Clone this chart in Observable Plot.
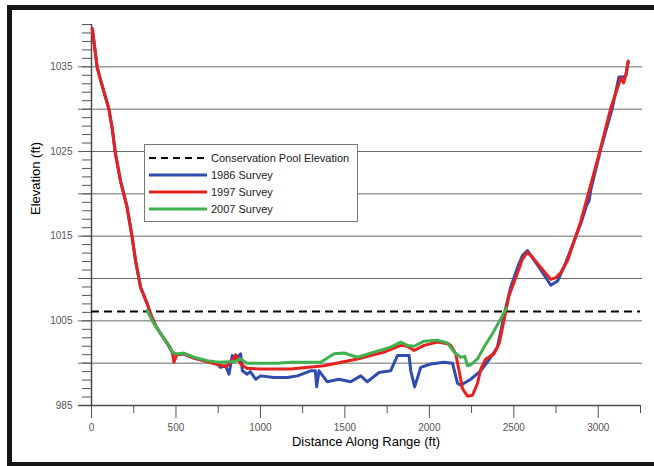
<!DOCTYPE html>
<html><head><meta charset="utf-8">
<script src="https://cdn.jsdelivr.net/npm/d3@7"></script>
<script src="https://cdn.jsdelivr.net/npm/@observablehq/plot@0.6"></script>
<style>
body{margin:0;background:#fff;}
#wrap{position:relative;width:654px;height:466px;overflow:hidden;font-family:"Liberation Sans",Arial,sans-serif;background:#fff;}
#border{position:absolute;left:7px;top:5px;width:700px;height:452px;border:5px solid #161616;border-right:none;}
#chart{position:absolute;left:0;top:0;}
#legend{position:absolute;left:144px;top:144px;width:212px;height:76px;border:1px solid #777;background:#fff;}
.row{position:absolute;left:0;height:14px;font-size:11px;color:#1a1a1a;line-height:14px;}
.row svg{position:absolute;left:4px;top:0;}
.row span{position:absolute;left:66px;top:0;white-space:nowrap;}
</style></head>
<body><div id="wrap"><div id="border"></div><div id="chart"></div><div id="legend"></div></div>
<script>
// ---- data ----
const poolElevation = 1006.1;

const dist1986 = [5,34,53,103,122,142,172,211,241,261,290,330,350,380,409,458,478,500,547,606,685,744,764,794,814,833,853,883,893,922,940,972,1001,1080,1159,1219,1297,1325,1333,1347,1396,1465,1534,1594,1633,1702,1771,1811,1880,1890,1913,1949,2008,2087,2137,2167,2186,2245,2304,2364,2403,2423,2453,2482,2522,2551,2581,2650,2719,2759,2800,2897,2930,2946,2956,3015,3084,3122,3151,3164,3177];
const elev1986 = [1039.5,1034.9,1033.5,1030.0,1027.8,1024.7,1021.5,1018.4,1014.8,1012.1,1009.0,1007.0,1005.8,1004.4,1003.5,1002.0,1001.3,1001.0,1001.1,1000.6,1000.2,999.9,999.5,999.7,998.7,1000.9,1000.5,1001.1,999.1,998.7,999.0,998.1,998.5,998.3,998.3,998.5,999.1,999.1,997.2,999.1,997.8,998.1,997.8,998.5,997.8,998.9,999.1,1000.9,1000.9,999.1,997.2,999.5,999.9,1000.1,1000.0,997.6,997.4,998.1,999.1,1000.7,1001.9,1003.8,1006.6,1009.0,1011.3,1012.7,1013.3,1011.3,1009.2,1009.7,1011.5,1016.5,1018.6,1019.2,1020.5,1025.3,1030.2,1033.8,1033.8,1034.0,1035.5];

const dist1997 = [5,34,53,103,122,142,172,211,241,261,290,330,350,380,409,458,478,488,505,547,606,685,750,800,843,853,883,920,1000,1100,1179,1376,1574,1732,1831,1870,1910,1969,2048,2107,2127,2156,2176,2196,2226,2255,2285,2304,2334,2383,2413,2433,2453,2472,2512,2551,2581,2611,2660,2719,2749,2778,2818,2897,2956,3015,3075,3134,3150,3164,3177];
const elev1997 = [1039.5,1034.9,1033.5,1030.0,1027.8,1024.7,1021.5,1018.4,1014.8,1012.1,1009.0,1007.0,1005.8,1004.4,1003.5,1002.1,1001.3,1000.1,1001.0,1001.1,1000.6,1000.2,999.8,999.6,1000.6,1001.0,999.9,999.4,999.3,999.3,999.3,999.7,1000.5,1001.3,1002.1,1002.0,1001.5,1002.1,1002.5,1002.3,1002.1,1001.1,999.1,997.0,996.1,996.2,997.6,999.3,1000.5,1001.1,1002.3,1004.2,1006.2,1008.0,1010.1,1012.3,1013.1,1012.5,1011.3,1009.9,1010.1,1010.7,1012.1,1016.8,1021.1,1025.5,1030.2,1033.7,1033.1,1034.1,1035.7];

const dist2007 = [330,359,409,458,478,500,517,547,606,685,750,850,883,920,1000,1100,1179,1357,1436,1495,1574,1672,1771,1831,1870,1910,1969,2048,2107,2147,2186,2210,2226,2245,2285,2324,2383,2443,2455];
const elev2007 = [1006.2,1005.0,1003.5,1002.1,1001.3,1001.1,1001.1,1001.2,1000.7,1000.3,1000.1,1000.2,1000.5,1000.0,1000.0,1000.0,1000.1,1000.1,1001.1,1001.2,1000.7,1001.3,1001.9,1002.5,1002.1,1002.0,1002.6,1002.7,1002.4,1001.3,1000.7,1000.8,999.7,999.8,1000.5,1001.9,1003.8,1006.0,1006.5];

const xMajorTicks = [0,500,1000,1500,2000,2500,3000];
const xMinorTicks = [250,750,1250,1750,2250,2750,3250];
const yLabelTicks = [995,1005,1015,1025,1035];
const yTickLabels = ["985","1005","1015","1025","1035"];
const yGridTicks = [1000,1005,1010,1015,1020,1025,1030,1035];
const yMinorTicks = d3.range(995,1041,1);
const legendLabels = ["Conservation Pool Elevation","1986 Survey","1997 Survey","2007 Survey"];
const seriesColors = ["#000000","#2f4cae","#e8201f","#3fb14f"];
// -------------------------------------

const rows = (xs, ys) => xs.map((x,i)=>({x, y: ys[i]}));
const font = '"Liberation Sans",Arial,sans-serif';

const chart = Plot.plot({
  width: 654, height: 466,
  marginLeft: 91, marginRight: 14, marginTop: 24, marginBottom: 61,
  x: {domain: [0, 3250], axis: null},
  y: {domain: [995, 1040], axis: null},
  style: {background: "transparent", fontFamily: font},
  marks: [
    Plot.ruleY(yGridTicks, {stroke: "#6a6a6a", strokeWidth: 1, insetLeft: -13, insetRight: -2}),
    Plot.axisY(yMinorTicks, {anchor: "left", tickSize: 9, tickFormat: () => "", stroke: "#555", label: null}),
    Plot.axisY(yLabelTicks, {anchor: "left", tickSize: 0, tickPadding: 19, fontSize: 10,
      tickFormat: d => yTickLabels[yLabelTicks.indexOf(d)], fill: "#555", label: null}),
    Plot.axisX(xMinorTicks, {anchor: "bottom", tickSize: 8, tickFormat: () => "", stroke: "#555", label: null}),
    Plot.axisX(xMajorTicks, {anchor: "bottom", tickSize: 13, tickPadding: 5, fontSize: 10, tickFormat: d => String(d), fill: "#555", stroke: "#555", label: null}),
    Plot.ruleY([995], {stroke: "#4a4a4a", strokeWidth: 1.5, insetLeft: -13}),
    Plot.ruleX([0], {stroke: "#4a4a4a", strokeWidth: 1.5}),
    Plot.ruleY([poolElevation], {stroke: seriesColors[0], strokeWidth: 2.2, strokeDasharray: "8,5"}),
    Plot.line(rows(dist1986, elev1986), {x: "x", y: "y", stroke: seriesColors[1], strokeWidth: 3, strokeLinejoin: "round"}),
    Plot.line(rows(dist1997, elev1997), {x: "x", y: "y", stroke: seriesColors[2], strokeWidth: 3, strokeLinejoin: "round"}),
    Plot.line(rows(dist2007, elev2007), {x: "x", y: "y", stroke: seriesColors[3], strokeWidth: 3, strokeLinejoin: "round"}),
    Plot.text(["Distance Along Range (ft)"], {frameAnchor: "bottom", dy: 40, fontSize: 13, fill: "#000"}),
    Plot.text(["Elevation (ft)"], {frameAnchor: "left", dx: -56, rotate: -90, fontSize: 13, fill: "#000"})
  ]
});
document.getElementById("chart").appendChild(chart);

const legend = document.getElementById("legend");
legendLabels.forEach((lab, i) => {
  const row = document.createElement("div");
  row.className = "row";
  row.style.top = (6 + i * 17) + "px";
  row.style.width = "210px";
  const dash = i === 0 ? 'stroke-dasharray="7,5" stroke-width="2"' : 'stroke-width="3"';
  row.innerHTML = `<svg width="58" height="14"><line x1="0" x2="58" y1="7" y2="7" stroke="${seriesColors[i]}" ${dash}/></svg><span>${lab}</span>`;
  legend.appendChild(row);
});
</script></body></html>
